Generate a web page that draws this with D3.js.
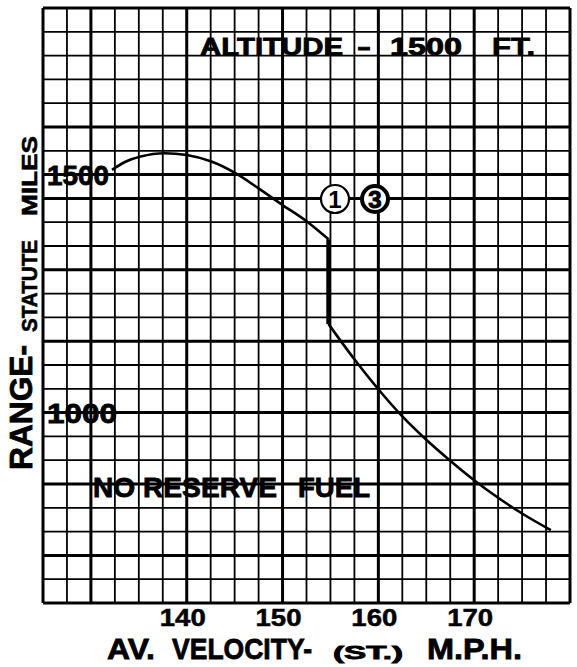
<!DOCTYPE html>
<html>
<head>
<meta charset="utf-8">
<script src="https://cdn.jsdelivr.net/npm/d3@7"></script>
<style>
  body { margin: 0; background: #fff; }
  text { font-family: "Liberation Sans", Arial, sans-serif; font-weight: bold; fill: #000; }
</style>
</head>
<body>
<div id="chart"></div>
<script>
// range curve, velocity in mph, range in statute miles
var velUpper   = [132.2, 133.5, 135.2, 137.7, 140, 142.5, 145, 147.5, 150, 152.5, 154.8];
var rangeUpper = [1510, 1526, 1538, 1545, 1541, 1528, 1504, 1471, 1436, 1402, 1364];
var velLower   = [154.8, 157.5, 160, 162.5, 165, 167.5, 170, 172.5, 175, 178];
var rangeLower = [1186, 1112, 1049, 992, 943, 899, 858, 821, 788, 753];

var xTicks = [140, 150, 160, 170];
var yTicks = [1000, 1500];
var heavyX = [130, 140, 150, 160, 170];
var heavyY = [700, 850, 1000, 1150, 1300, 1450, 1500, 1600];

var W = 577, H = 667;
var svg = d3.select("#chart").append("svg")
    .attr("width", W)
    .attr("height", H);

var x = d3.scaleLinear().domain([125, 180]).range([43, 570]);
var y = d3.scaleLinear().domain([600, 1850]).range([603, 8]);

// graph paper
var grid = svg.append("g");
d3.range(125, 180.01, 2.5).forEach(function(v){
    var heavy = heavyX.indexOf(v) >= 0 || v == 125 || v == 180;
    grid.append("line")
        .attr("x1", x(v)).attr("x2", x(v))
        .attr("y1", y(1850)).attr("y2", y(600))
        .attr("stroke", "#000")
        .attr("stroke-width", heavy ? 3 : 1.8);
});
d3.range(600, 1850.01, 50).forEach(function(v){
    var heavy = heavyY.indexOf(v) >= 0 || v == 600 || v == 1850;
    grid.append("line")
        .attr("x1", x(125)).attr("x2", x(180))
        .attr("y1", y(v)).attr("y2", y(v))
        .attr("stroke", "#000")
        .attr("stroke-width", heavy ? 3 : 1.8);
});

// x tick labels
svg.append("g").selectAll("text")
    .data(xTicks)
    .enter().append("text")
    .attr("x", function(d){ return x(d) - 4; })
    .attr("y", 626)
    .attr("text-anchor", "middle")
    .attr("font-size", 24)
    .attr("textLength", 46)
    .attr("lengthAdjust", "spacingAndGlyphs")
    .attr("stroke", "#000").attr("stroke-width", 0.5)
    .text(function(d){ return d; });

// y tick labels sit on the line, left of the curve start
svg.append("g").selectAll("text")
    .data(yTicks)
    .enter().append("text")
    .attr("x", 47)
    .attr("y", function(d){ return y(d) + 10; })
    .attr("font-size", 27)
    .attr("textLength", function(d){ return d == 1000 ? 70 : 62; })
    .attr("lengthAdjust", "spacingAndGlyphs")
    .attr("stroke", "#000").attr("stroke-width", 0.8)
    .text(function(d){ return d; });

// curve
var line = d3.line()
    .x(function(d){ return x(d[0]); })
    .y(function(d){ return y(d[1]); })
    .curve(d3.curveMonotoneX);

svg.append("path")
    .attr("d", line(d3.zip(velUpper, rangeUpper)))
    .attr("fill", "none").attr("stroke", "#000").attr("stroke-width", 2.6);
svg.append("path")
    .attr("d", line(d3.zip(velLower, rangeLower)))
    .attr("fill", "none").attr("stroke", "#000").attr("stroke-width", 2.6);
svg.append("line")
    .attr("x1", x(velUpper[velUpper.length-1])).attr("x2", x(velLower[0]))
    .attr("y1", y(rangeUpper[rangeUpper.length-1])).attr("y2", y(rangeLower[0]))
    .attr("stroke", "#000").attr("stroke-width", 4.5);

// circled engine numbers
svg.append("circle").attr("cx", 335).attr("cy", 199).attr("r", 14)
    .attr("fill", "#fff").attr("stroke", "#000").attr("stroke-width", 2.2);
svg.append("text").attr("x", 335).attr("y", 208).attr("text-anchor", "middle")
    .attr("font-size", 24).text("1");
svg.append("circle").attr("cx", 375).attr("cy", 199).attr("r", 13)
    .attr("fill", "#fff").attr("stroke", "#000").attr("stroke-width", 4);
svg.append("text").attr("x", 375).attr("y", 208).attr("text-anchor", "middle")
    .attr("font-size", 24).attr("stroke", "#000").attr("stroke-width", 1).text("3");

// title pieces
function label(txt, x0, y0, size, len){
    return svg.append("text")
        .attr("x", x0).attr("y", y0)
        .attr("font-size", size)
        .attr("textLength", len)
        .attr("lengthAdjust", "spacingAndGlyphs")
        .attr("stroke", "#000").attr("stroke-width", 0.8)
        .text(txt);
}
label("ALTITUDE", 200, 55, 24, 143);
label("-", 357, 55, 24, 14);
label("1500", 390, 55, 24, 72);
label("FT.", 492, 55, 24, 43);

label("NO RESERVE", 93, 497, 27, 184);
label("FUEL", 298, 497, 27, 72);

// x axis title
label("AV.", 107, 659, 30, 48);
label("VELOCITY-", 172, 659, 30, 140);
label("(ST.)", 333, 659, 18, 70);
label("M.P.H.", 427, 659, 30, 95);

// y axis title, rotated
svg.append("text")
    .attr("transform", "translate(32,470) rotate(-90)")
    .attr("font-size", 32)
    .attr("textLength", 125)
    .attr("lengthAdjust", "spacingAndGlyphs")
    .attr("stroke", "#000").attr("stroke-width", 0.8)
    .text("RANGE-");
svg.append("text")
    .attr("transform", "translate(37,332) rotate(-90)")
    .attr("font-size", 22)
    .attr("textLength", 92)
    .attr("lengthAdjust", "spacingAndGlyphs")
    .attr("stroke", "#000").attr("stroke-width", 0.6)
    .text("STATUTE");
svg.append("text")
    .attr("transform", "translate(37,216) rotate(-90)")
    .attr("font-size", 22)
    .attr("textLength", 80)
    .attr("lengthAdjust", "spacingAndGlyphs")
    .attr("stroke", "#000").attr("stroke-width", 0.6)
    .text("MILES");
</script>
</body>
</html>
